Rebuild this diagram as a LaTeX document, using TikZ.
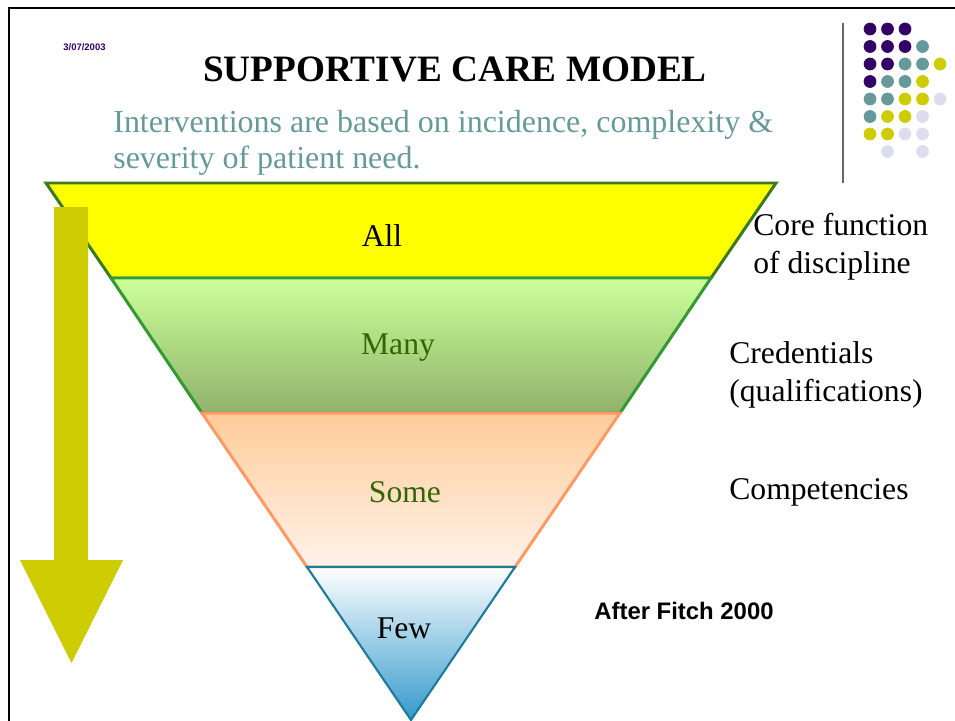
\documentclass[tikz,border=0pt]{standalone}
\usepackage{fontspec}
\setmainfont{Liberation Serif}
\setsansfont{Liberation Sans}
\usepackage{xcolor}
\usetikzlibrary{calc}
\definecolor{dotpurple}{HTML}{330066}
\definecolor{dotteal}{HTML}{669999}
\definecolor{dotyellow}{HTML}{CCCC00}
\definecolor{dotlilac}{HTML}{DDDDEE}
\definecolor{allfill}{HTML}{FFFF00}
\definecolor{yellowedge}{HTML}{3B7A1E}
\definecolor{greenedge}{HTML}{339933}
\definecolor{peachedge}{HTML}{FF9966}
\definecolor{blueedge}{HTML}{1F7A99}
\definecolor{manytext}{HTML}{336600}
\tikzset{
  bandtext/.style={font=\fontsize{18}{21}\selectfont, inner sep=0pt},
  sidetext/.style={font=\fontsize{18}{21.5}\selectfont, align=left, anchor=west, inner sep=0pt},
}

\begin{document}
\begin{tikzpicture}[x=0.02cm, y=-0.02cm]
                \useasboundingbox (0,0) rectangle (955,720);

                % slide frame
                \draw[line width=2.5pt/1.757] (9,725) -- (9,8) -- (960,8);

                % date and heading
                \node[font=\sffamily\bfseries\fontsize{5.4}{6}\selectfont, color=dotpurple, anchor=west, inner sep=0pt] (date) at (63,47) {3/07/2003};
                \node[font=\bfseries\fontsize{21.2}{25}\selectfont, inner sep=0pt] (title) at (455,69) {SUPPORTIVE CARE MODEL};
                \node[font=\fontsize{18.2}{20.5}\selectfont, color=dotteal, align=left, anchor=west, inner sep=0pt] (sub) at (113,143) {Interventions are based on incidence, complexity \&\\severity of patient need.};

                % dot logo
                \draw[gray!80!black, line width=0.8pt] (843,23) -- (843,183);
                % row 1
                \filldraw[dotpurple] (870,29) circle (6);
                \filldraw[dotpurple] (887.5,29) circle (6);
                \filldraw[dotpurple] (905,29) circle (6);
                % row 2
                \filldraw[dotpurple] (870,46.5) circle (6);
                \filldraw[dotpurple] (887.5,46.5) circle (6);
                \filldraw[dotpurple] (905,46.5) circle (6);
                \filldraw[dotteal] (922.5,46.5) circle (6);
                % row 3
                \filldraw[dotpurple] (870,64) circle (6);
                \filldraw[dotpurple] (887.5,64) circle (6);
                \filldraw[dotteal] (905,64) circle (6);
                \filldraw[dotteal] (922.5,64) circle (6);
                \filldraw[dotyellow] (940,64) circle (6);
                % row 4
                \filldraw[dotpurple] (870,81.5) circle (6);
                \filldraw[dotteal] (887.5,81.5) circle (6);
                \filldraw[dotteal] (905,81.5) circle (6);
                \filldraw[dotyellow] (922.5,81.5) circle (6);
                % row 5
                \filldraw[dotteal] (870,99) circle (6);
                \filldraw[dotteal] (887.5,99) circle (6);
                \filldraw[dotyellow] (905,99) circle (6);
                \filldraw[dotyellow] (922.5,99) circle (6);
                \filldraw[dotlilac] (940,99) circle (6);
                % row 6
                \filldraw[dotteal] (870,116.5) circle (6);
                \filldraw[dotyellow] (887.5,116.5) circle (6);
                \filldraw[dotyellow] (905,116.5) circle (6);
                \filldraw[dotlilac] (922.5,116.5) circle (6);
                % row 7
                \filldraw[dotyellow] (870,134) circle (6);
                \filldraw[dotyellow] (887.5,134) circle (6);
                \filldraw[dotlilac] (905,134) circle (6);
                \filldraw[dotlilac] (922.5,134) circle (6);
                % row 8
                \filldraw[dotlilac] (887.5,151.5) circle (6);
                \filldraw[dotlilac] (922.5,151.5) circle (6);

                % All band
                \filldraw[fill=allfill, draw=yellowedge, line width=1.7pt] (46,183) -- (776,183) -- (711,278) -- (111,278) -- cycle;
                % Many band
                \draw[top color={rgb,255:red,204;green,255;blue,153}, bottom color={rgb,255:red,143;green,179;blue,107}, draw=greenedge, line width=1.7pt] (111,278) -- (711,278) -- (620,413) -- (202,413) -- cycle;
                % Some band
                \draw[top color={rgb,255:red,255;green,204;blue,153}, bottom color={rgb,255:red,255;green,242;blue,234}, draw=peachedge, line width=1.7pt] (202,413) -- (620,413) -- (515,567) -- (307,567) -- cycle;
                % Few band
                \draw[top color=white, bottom color={rgb,255:red,51;green,153;blue,204}, draw=blueedge, line width=1.2pt] (307,567) -- (515,567) -- (411,720) -- cycle;

                % arrow down the side
                \fill[dotyellow] (54,207) -- (88,207) -- (88,560) -- (123,560) -- (71.5,663) -- (20,560) -- (54,560) -- cycle;

                % band labels
                \node[bandtext] (all) at (382,236) {All};
                \node[bandtext, color=manytext] (many) at (398,348) {Many};
                \node[bandtext, color=manytext] (some) at (405,492) {Some};
                \node[bandtext] (few) at (404,628) {Few};

                % side labels
                \node[sidetext] (core) at (753,247) {Core function\\of discipline};
                \node[sidetext] (cred) at (729,375) {Credentials\\(qualifications)};
                \node[sidetext] (comp) at (729,492) {Competencies};
                \node[font=\sffamily\bfseries\fontsize{13.6}{16}\selectfont, anchor=west, inner sep=0pt] (fitch) at (594,611) {After Fitch 2000};
            \end{tikzpicture}
\end{document}
